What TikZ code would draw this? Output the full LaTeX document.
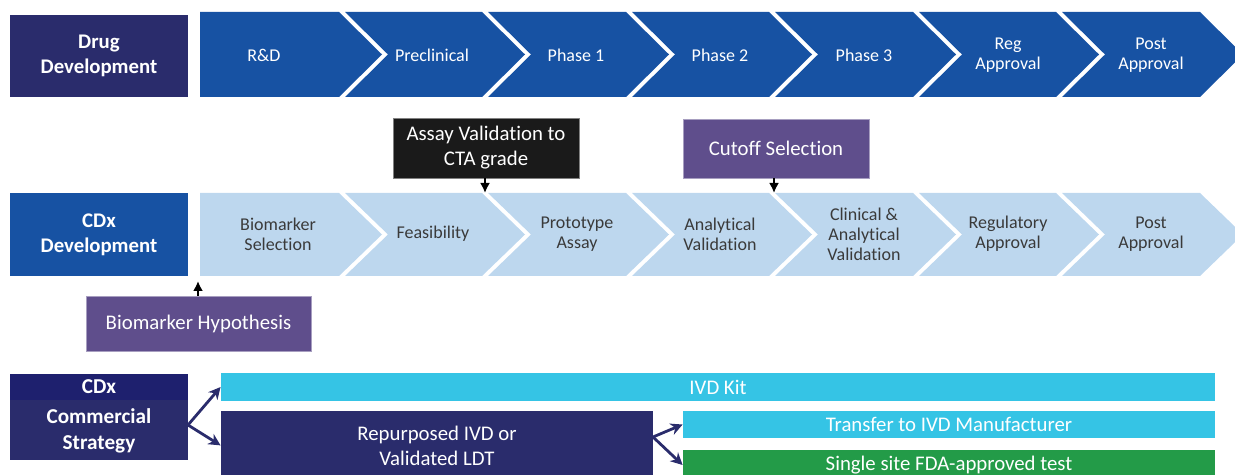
\documentclass[tikz,border=0pt]{standalone}
\usepackage{fontspec}
\setmainfont{Carlito}[Ligatures = {NoCommon, NoRare, NoContextual, NoRequired}]
\usetikzlibrary{arrows.meta}
\definecolor{navy}{HTML}{2A2C6C}
\definecolor{bandnavy}{HTML}{1E206E}
\definecolor{drugblue}{HTML}{1752A3}
\definecolor{cdxlight}{HTML}{BDD7EE}
\definecolor{stagegray}{HTML}{3A3A3A}
\definecolor{assayblack}{HTML}{1A1A1A}
\definecolor{hypviolet}{HTML}{5F4E8C}
\definecolor{kitcyan}{HTML}{35C4E5}
\definecolor{sitegreen}{HTML}{239B48}

\begin{document}
\begin{tikzpicture}[x = 0.5pt, y = -0.5pt,
            every node/.style = {inner sep = 0pt, align = center, font = \fontsize{10.4}{12.5}\selectfont},
            headbox/.style = {fill = #1, text = white, minimum width = 89pt, font = \bfseries\fontsize{10.4}{12.5}\selectfont},
            stagetext/.style = {text = #1, font = \fontsize{9}{10}\selectfont},
            callout/.style = {fill = #1, draw = #1!55!white, text = white, minimum width = 93pt, minimum height = 30pt},
            bar/.style = {fill = #1, text = white},
            pointer/.style = {-{Latex[length = 5pt, width = 5pt]}, line width = 1.3pt, black},
            branch/.style = {-{Stealth[length = 6pt, width = 6pt]}, line width = 1.4pt, navy}]
        \path[use as bounding box, clip] (0,0) rectangle (1235,475);
        \foreach \t/\b/\c in {12/97/drugblue, 193/276/cdxlight} {
            \fill[\c] (200,\t) -- (339,\t) -- (382,{(\t+\b)/2}) -- (339,\b) -- (200,\b) -- cycle;
            \foreach \l/\r in {345/482, 488/626, 632/769, 775/913, 919/1056, 1062/1200}
                \fill[\c] (\l,\t) -- (\r,\t) -- ({\r+43},{(\t+\b)/2}) -- (\r,\b)
                    -- (\l,\b) -- ({\l+43},{(\t+\b)/2}) -- cycle;
        }
        \foreach[count = \i] \x/\txt in {264/R\&D, 432/Preclinical, 576/Phase 1, 720/Phase 2,
                864/Phase 3, 1008/Reg\\Approval, 1151/Post\\Approval}
            \node[stagetext = white] (drugstage\i) at (\x,55) {\txt};
        \foreach[count = \i] \x/\txt in {278/Biomarker\\Selection, 433/Feasibility, 577/Prototype\\Assay,
                720/Analytical\\Validation, 864/Clinical \&\\Analytical\\Validation,
                1008/Regulatory\\Approval, 1151/Post\\Approval}
            \node[stagetext = stagegray] (cdxstage\i) at (\x,234) {\txt};

        \node[headbox = navy, minimum height = 41pt] (drugdev) at (99,56) {Drug\\Development};
        \node[headbox = drugblue, minimum height = 41.5pt] (cdxdev) at (99,234.5) {CDx\\Development};
        \node[callout = assayblack] (assay) at (486,148) {Assay Validation to\\CTA grade};
        \node[callout = hypviolet, minimum height = 29.5pt] (cutoff) at (776,148.5) {Cutoff Selection};
        \node[callout = hypviolet, minimum width = 112.5pt, minimum height = 27.5pt] (hypothesis)
            at (198.5,323.5) {Biomarker Hypothesis};
        \node[headbox = bandnavy, minimum height = 13pt, font = \bfseries\fontsize{10.6}{13}\selectfont]
            (cdxband) at (99,387) {CDx};
        \node[headbox = navy, minimum height = 30pt, anchor = north, font = \bfseries\fontsize{10.6}{13}\selectfont]
            (strategy) at (99,400) {Commercial\\Strategy};
        \node[bar = kitcyan, minimum width = 497pt, minimum height = 14pt] (ivdkit) at (718,387) {IVD Kit};
        \node[bar = navy, minimum width = 216pt, minimum height = 34pt, anchor = north] (repurposed)
            at (437,411) {Repurposed IVD or\\Validated LDT};
        \node[bar = kitcyan, minimum width = 266pt, minimum height = 13.5pt] (transfer)
            at (949,424.5) {Transfer to IVD Manufacturer};
        \node[bar = sitegreen, minimum width = 266pt, minimum height = 15pt] (singlesite)
            at (949,465) {Single site FDA-approved test};

        \coordinate (feasend) at (485,193);
        \coordinate (analyend) at (774,193);
        \coordinate (selstart) at (198,281);
        \coordinate (fork) at (188,425);
        \coordinate (subfork) at (653,437);
        \draw[pointer] (assay.south -| feasend) -- (feasend);
        \draw[pointer] (cutoff.south -| analyend) -- (analyend);
        \draw[pointer] (hypothesis.north -| selstart) -- (selstart);
        \draw[branch] (fork) -- (ivdkit.west);
        \draw[branch] (fork) -- (repurposed.west);
        \draw[branch] (subfork) -- (transfer.west);
        \draw[branch] (subfork) -- (singlesite.west);
        \end{tikzpicture}
\end{document}
